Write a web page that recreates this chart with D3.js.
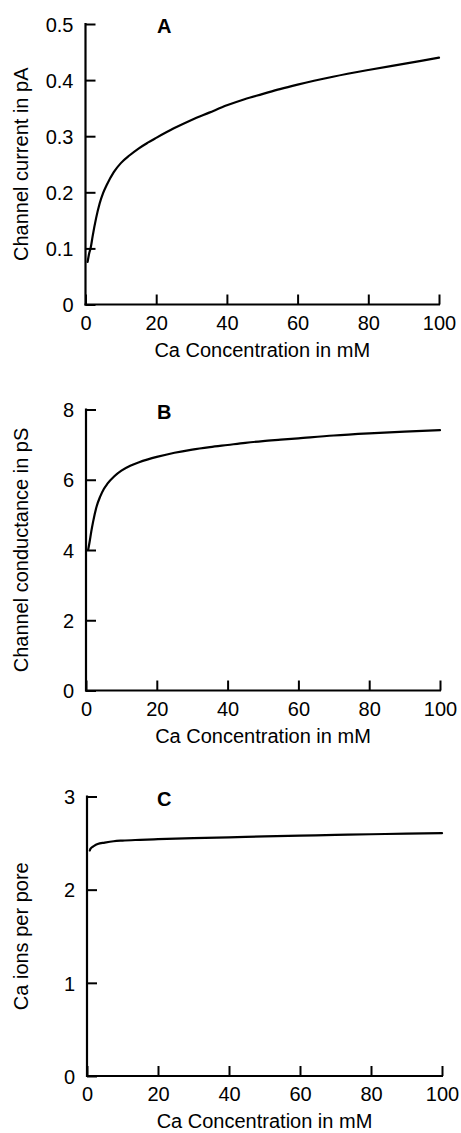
<!DOCTYPE html>
<html>
<head>
<meta charset="utf-8">
<script src="https://cdn.jsdelivr.net/npm/d3@7"></script>
<style>
  html, body { margin: 0; padding: 0; background: #fff; }
  svg { display: block; }
  text { font-family: "Liberation Sans", Arial, Helvetica, sans-serif; fill: #000; }
</style>
</head>
<body>
<svg id="chart" width="461" height="1133"></svg>
<script>
// ---- data ----
const xTicks = [0, 20, 40, 60, 80, 100];
const xTitle = "Ca Concentration in mM";

// Panel A: channel current (pA)
const concA = [0.6, 1, 1.5, 2, 3, 4, 5, 6, 8, 10, 12.5, 15, 17.5, 20, 25, 30, 35, 40, 45, 50, 55, 60, 70, 80, 90, 100];
const currentA = [0.076, 0.090, 0.102, 0.121, 0.154, 0.180, 0.199, 0.213, 0.236, 0.252, 0.266, 0.278, 0.288, 0.297, 0.314, 0.329, 0.342, 0.355, 0.366, 0.375, 0.384, 0.392, 0.406, 0.418, 0.429, 0.440];
const yTicksA = [0, 0.1, 0.2, 0.3, 0.4, 0.5];
const yTickLabelsA = ["0", "0.1", "0.2", "0.3", "0.4", "0.5"];

// Panel B: channel conductance (pS)
const concB = [0.6, 1, 1.5, 2, 3, 4, 5, 6, 8, 10, 12.5, 15, 17.5, 20, 25, 30, 35, 40, 45, 50, 55, 60, 70, 80, 90, 100];
const conductB = [4.00, 4.22, 4.53, 4.80, 5.24, 5.52, 5.73, 5.88, 6.10, 6.26, 6.40, 6.50, 6.58, 6.65, 6.77, 6.86, 6.93, 6.99, 7.05, 7.10, 7.14, 7.18, 7.26, 7.32, 7.37, 7.41];
const yTicksB = [0, 2, 4, 6, 8];
const yTickLabelsB = ["0", "2", "4", "6", "8"];

// Panel C: Ca ions per pore
const concC = [0.8, 1, 2, 3, 5, 7.5, 10, 15, 20, 30, 40, 50, 60, 70, 80, 90, 100];
const ionsC = [2.42, 2.44, 2.47, 2.49, 2.505, 2.52, 2.527, 2.535, 2.542, 2.553, 2.562, 2.572, 2.580, 2.588, 2.595, 2.601, 2.607];
const yTicksC = [0, 1, 2, 3];
const yTickLabelsC = ["0", "1", "2", "3"];

const panelLetters = ["A", "B", "C"];
const yTitles = ["Channel current in pA", "Channel conductance in pS", "Ca ions per pore"];

// ---- layout ----
const panels = [
  { letter: panelLetters[0], yTitle: yTitles[0], xs: concA, ys: currentA, yDomain: [0, 0.5], yTicks: yTicksA, yLabels: yTickLabelsA,
    left: 85.5, right: 439, top: 24, bottom: 304.5 },
  { letter: panelLetters[1], yTitle: yTitles[1], xs: concB, ys: conductB, yDomain: [0, 8], yTicks: yTicksB, yLabels: yTickLabelsB,
    left: 86, right: 440, top: 409.5, bottom: 690.5 },
  { letter: panelLetters[2], yTitle: yTitles[2], xs: concC, ys: ionsC, yDomain: [0, 3], yTicks: yTicksC, yLabels: yTickLabelsC,
    left: 87, right: 442, top: 796.5, bottom: 1076 }
];

const svg = d3.select("#chart");
const fontSize = 20;

panels.forEach(p => {
  const x = d3.scaleLinear().domain([0, 100]).range([p.left, p.right]);
  const y = d3.scaleLinear().domain(p.yDomain).range([p.bottom, p.top]);
  const g = svg.append("g");

  // x axis (ticks pointing inward / up)
  const xAxis = d3.axisBottom(x).tickValues(xTicks).tickSizeInner(-10).tickSizeOuter(0).tickPadding(0).tickFormat(d3.format("d"));
  const gx = g.append("g").attr("transform", `translate(0,${p.bottom})`).call(xAxis);
  gx.select(".domain").attr("stroke", "#000").attr("stroke-width", 2.2).attr("d", `M${p.left - 1},0H${p.right + 1}`);
  gx.selectAll(".tick line").attr("stroke", "#000").attr("stroke-width", 2);
  gx.selectAll(".tick text")
    .attr("y", 25).attr("dy", null)
    .style("font-size", fontSize + "px")
    .style("font-family", "'Liberation Sans', Arial, sans-serif");

  // y axis (ticks pointing inward / right)
  const yAxis = d3.axisLeft(y).tickValues(p.yTicks).tickSizeInner(-10).tickSizeOuter(0).tickPadding(0)
    .tickFormat((d, i) => p.yLabels[i]);
  const gy = g.append("g").attr("transform", `translate(${p.left},0)`).call(yAxis);
  gy.select(".domain").attr("stroke", "#000").attr("stroke-width", 2.2).attr("d", `M0,${p.top - 1}V${p.bottom + 1}`);
  gy.selectAll(".tick line").attr("stroke", "#000").attr("stroke-width", 2);
  gy.selectAll(".tick text")
    .attr("x", -12).attr("dy", "0.36em")
    .style("font-size", fontSize + "px")
    .style("font-family", "'Liberation Sans', Arial, sans-serif");

  // curve
  const line = d3.line().x(d => x(d[0])).y(d => y(d[1])).curve(d3.curveMonotoneX);
  const pts = p.xs.map((v, i) => [v, p.ys[i]]);
  g.append("path").datum(pts)
    .attr("fill", "none").attr("stroke", "#000").attr("stroke-width", 2.2)
    .attr("stroke-linecap", "round")
    .attr("d", line);

  // panel letter
  g.append("text")
    .attr("x", 157).attr("y", p.top + 9)
    .style("font-size", "20px").style("font-weight", "bold")
    .text(p.letter);

  // x title
  g.append("text")
    .attr("x", (p.left + p.right) / 2).attr("y", p.bottom + 52)
    .attr("text-anchor", "middle")
    .style("font-size", fontSize + "px")
    .text(xTitle);

  // y title
  g.append("text")
    .attr("transform", `translate(28,${(p.top + p.bottom) / 2}) rotate(-90)`)
    .attr("text-anchor", "middle")
    .style("font-size", fontSize + "px")
    .text(p.yTitle);
});
</script>
</body>
</html>
